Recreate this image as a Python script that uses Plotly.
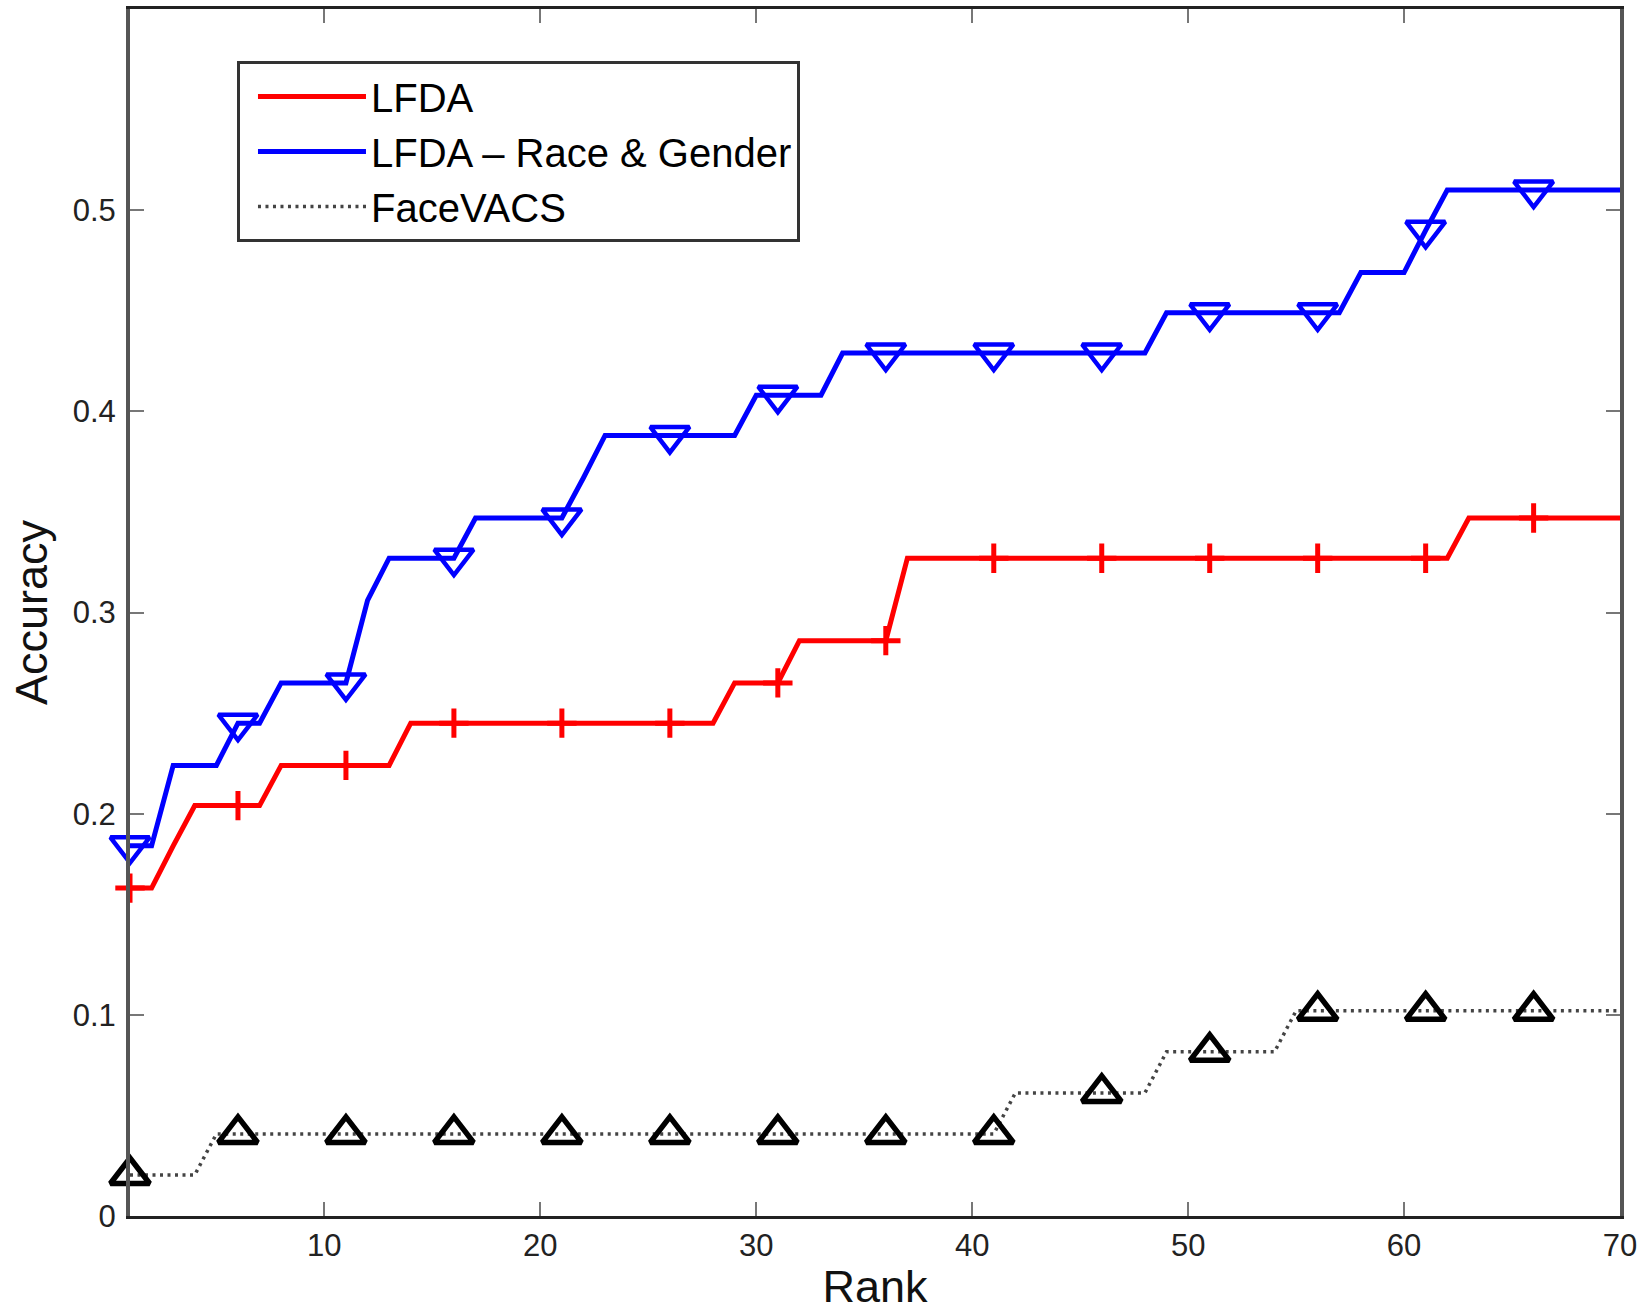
import plotly.graph_objects as go

# ---- data ----
rank = list(range(1, 71))

lfda = ([0.163] * 2 + [0.184] + [0.204] * 4 + [0.224] * 6 + [0.245] * 15 +
        [0.265] * 3 + [0.286] * 5 + [0.327] * 26 + [0.347] * 8)

lfda_rg = ([0.184] * 2 + [0.224] * 3 + [0.245] * 2 + [0.265] * 4 + [0.306] +
           [0.327] * 4 + [0.347] * 5 + [0.367] + [0.388] * 7 + [0.408] * 4 +
           [0.429] * 15 + [0.449] * 9 + [0.469] * 3 + [0.490] + [0.510] * 9)

facevacs = ([0.0204] * 4 + [0.0408] * 37 + [0.0612] * 7 + [0.0816] * 6 +
            [0.102] * 16)

series_names = ["LFDA", "LFDA \u2013 Race & Gender", "FaceVACS"]
x_ticks = [10, 20, 30, 40, 50, 60, 70]
y_ticks = [0, 0.1, 0.2, 0.3, 0.4, 0.5]
y_tick_labels = ["0", "0.1", "0.2", "0.3", "0.4", "0.5"]

marker_step = 5

FONT = "Liberation Sans, Arial, Helvetica, sans-serif"

fig = go.Figure()

styles = [
    dict(y=lfda, color="#ff0000", dash="solid", width=5,
         symbol="cross-thin-open", msize=21, mline=5, mcolor="#ff0000"),
    dict(y=lfda_rg, color="#0000ff", dash="solid", width=5,
         symbol="triangle-down-open", msize=34, mline=4.5, mcolor="#0000ff"),
    dict(y=facevacs, color="#444444", dash="3px,4.5px", width=3.5,
         symbol="triangle-up-open", msize=34, mline=5.5, mcolor="#000000"),
]

for name, s in zip(series_names, styles):
    fig.add_trace(go.Scatter(
        x=rank, y=s["y"], mode="lines", name=name, legendgroup=name,
        line=dict(color=s["color"], width=s["width"], dash=s["dash"]),
        showlegend=True,
    ))
    fig.add_trace(go.Scatter(
        x=rank[::marker_step], y=s["y"][::marker_step], mode="markers",
        name=name, legendgroup=name, showlegend=False, cliponaxis=False,
        marker=dict(symbol=s["symbol"], size=s["msize"], color=s["mcolor"],
                    line=dict(width=s["mline"], color=s["mcolor"])),
    ))

fig.update_layout(
    width=1644, height=1312,
    margin=dict(l=130, r=24, t=9, b=96),
    paper_bgcolor="white", plot_bgcolor="white",
    font=dict(family=FONT, color="#111111"),
    legend=dict(
        x=0.0718, y=0.957, xanchor="left", yanchor="top",
        bgcolor="white", bordercolor="#333333", borderwidth=3,
        font=dict(size=40, family=FONT, color="#000000"),
        itemwidth=108, indentation=13, tracegroupgap=0,
    ),
)

fig.update_xaxes(
    range=[1, 70], tickvals=x_ticks, ticktext=[str(v) for v in x_ticks],
    showgrid=False, zeroline=False, automargin=False,
    showline=True, linecolor="#222222", linewidth=3, mirror="ticks",
    ticks="inside", ticklen=14, tickwidth=2, tickcolor="#777777",
    tickfont=dict(size=31, family=FONT, color="#222222"),
    ticklabelstandoff=0,
    title=dict(text="Rank", font=dict(size=45, family=FONT, color="#111111"),
               standoff=12),
)

fig.update_yaxes(
    range=[0, 0.6], tickvals=y_ticks, ticktext=y_tick_labels,
    showgrid=False, zeroline=False, automargin=False,
    showline=True, linecolor="#555555", linewidth=4, mirror="ticks",
    ticks="inside", ticklen=14, tickwidth=2, tickcolor="#777777",
    tickfont=dict(size=31, family=FONT, color="#222222"),
    ticklabelstandoff=4,
    title=dict(text="Accuracy", font=dict(size=45, family=FONT, color="#111111"),
               standoff=12),
)

fig.write_html("out.html")
